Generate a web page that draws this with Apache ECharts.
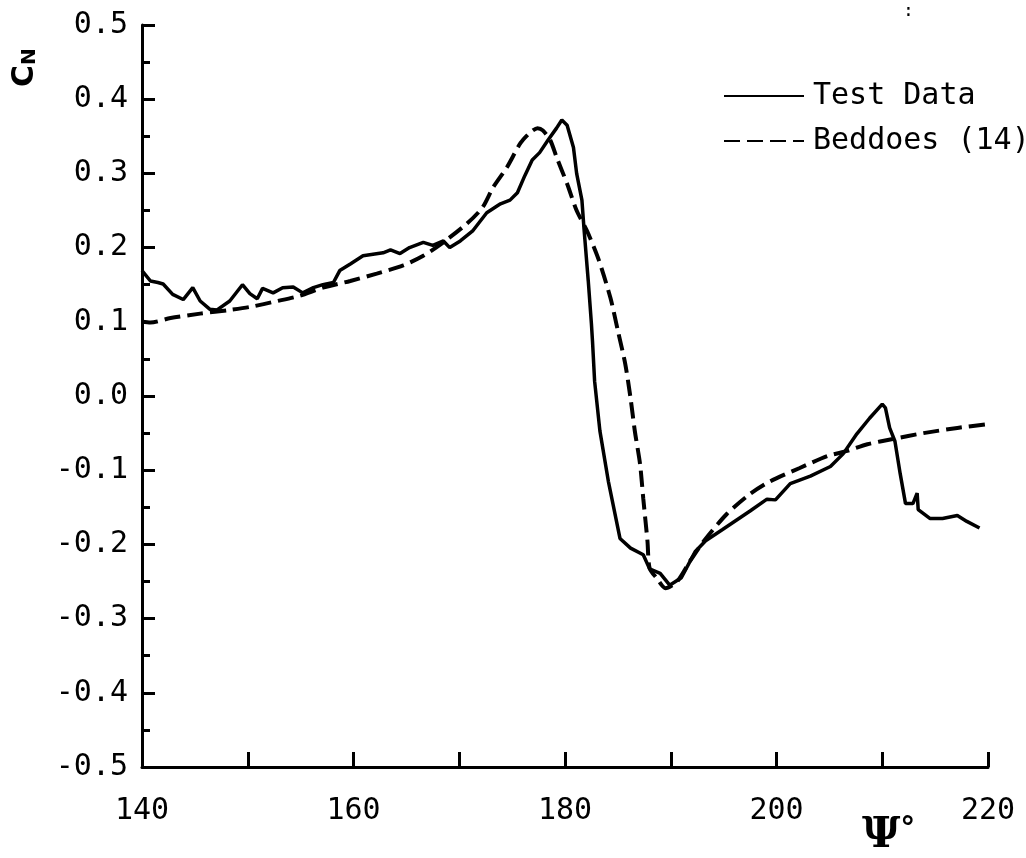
<!DOCTYPE html>
<html>
<head>
<meta charset="utf-8">
<script src="https://cdn.jsdelivr.net/npm/echarts@6/dist/echarts.min.js"></script>
<style>html,body{margin:0;padding:0;background:#fff}#c{width:1026px;height:858px}</style>
</head>
<body>
<div id="c"></div>
<script>
// ---- data ----
const xTicks = [140, 160, 180, 200, 220];
const yTicks = [-0.5, -0.4, -0.3, -0.2, -0.1, 0.0, 0.1, 0.2, 0.3, 0.4, 0.5];
const seriesNames = ['Test Data', 'Beddoes (14)'];

const testX = [140.0,140.8,141.5,142.0,142.9,143.9,144.8,145.5,146.4,147.1,148.3,149.5,150.2,150.9,151.4,152.4,153.3,154.3,155.2,156.2,157.1,158.1,158.7,159.7,160.9,162.8,163.5,164.4,165.3,166.6,167.5,168.5,169.1,170.1,171.3,172.6,173.9,174.8,175.5,176.2,176.9,177.6,178.4,179.2,179.7,180.2,180.8,181.1,181.6,181.8,182.2,182.5,182.6,182.8,183.3,184.1,185.2,186.2,187.4,188.0,189.0,189.9,191.0,192.3,193.3,194.9,197.5,199.1,199.9,201.3,203.2,205.1,206.3,207.6,208.8,210.0,210.3,210.7,211.2,211.7,212.2,212.9,213.3,213.4,214.5,215.7,217.1,218.0,219.2];
const testY = [0.169,0.155,0.153,0.151,0.137,0.130,0.146,0.128,0.117,0.116,0.128,0.150,0.138,0.131,0.145,0.139,0.146,0.147,0.139,0.146,0.150,0.153,0.169,0.178,0.189,0.193,0.197,0.192,0.200,0.207,0.203,0.209,0.200,0.209,0.223,0.247,0.259,0.264,0.274,0.297,0.318,0.328,0.345,0.361,0.372,0.365,0.335,0.300,0.264,0.225,0.155,0.097,0.074,0.020,-0.047,-0.115,-0.192,-0.205,-0.214,-0.233,-0.239,-0.255,-0.245,-0.210,-0.195,-0.180,-0.155,-0.139,-0.140,-0.118,-0.108,-0.095,-0.078,-0.051,-0.030,-0.011,-0.016,-0.043,-0.061,-0.105,-0.145,-0.145,-0.131,-0.153,-0.165,-0.165,-0.161,-0.169,-0.178];

const beddoesX = [140.0,140.8,142.7,145.5,148.3,150.2,152.8,154.9,157.1,159.7,162.2,164.7,166.6,168.2,170.7,172.2,173.2,174.5,175.8,176.7,177.4,177.9,178.6,179.2,180.2,181.1,182.1,183.2,184.3,185.0,185.7,186.2,186.6,187.1,187.4,187.8,188.0,188.7,189.5,190.6,191.8,193.1,195.3,197.5,199.4,202.2,204.8,206.7,208.6,211.0,213.9,217.1,219.9];
const beddoesY = [0.100,0.099,0.105,0.111,0.116,0.120,0.128,0.135,0.146,0.155,0.165,0.176,0.189,0.204,0.232,0.254,0.281,0.308,0.341,0.355,0.361,0.358,0.345,0.322,0.286,0.250,0.222,0.183,0.132,0.088,0.043,-0.003,-0.047,-0.092,-0.138,-0.196,-0.232,-0.246,-0.259,-0.250,-0.223,-0.196,-0.159,-0.132,-0.115,-0.097,-0.081,-0.074,-0.065,-0.058,-0.050,-0.043,-0.038];

const zip = (xs, ys) => xs.map((x, i) => [x, ys[i]]);
const MONO = '"DejaVu Sans Mono", "Liberation Mono", monospace';

const chart = echarts.init(document.getElementById('c'));
chart.setOption({
  backgroundColor: '#ffffff',
  animation: false,
  grid: { left: 142, right: 38, top: 25, bottom: 91, containLabel: false },
  legend: {
    orient: 'vertical',
    left: 718, top: 76,
    itemWidth: 80, itemHeight: 14, itemGap: 15,
    data: seriesNames,
    itemStyle: { opacity: 0, borderWidth: 0, color: 'rgba(0,0,0,0)' },
    textStyle: { fontFamily: MONO, fontSize: 30, color: '#000', padding: [0, 0, 0, 4], lineHeight: 30 }
  },
  xAxis: {
    type: 'value', min: 140, max: 220, interval: 10,
    axisLine: { onZero: false, lineStyle: { color: '#000', width: 3 } },
    axisTick: { inside: true, length: 15, lineStyle: { color: '#000', width: 3 } },
    splitLine: { show: false },
    axisLabel: {
      margin: 29, fontFamily: MONO, fontSize: 30, color: '#000',
      formatter: v => (xTicks.includes(Math.round(v)) ? String(Math.round(v)) : '')
    }
  },
  yAxis: {
    type: 'value', min: -0.5, max: 0.5, interval: 0.1,
    axisLine: { onZero: false, lineStyle: { color: '#000', width: 3 } },
    axisTick: { inside: true, length: 13, lineStyle: { color: '#000', width: 3 } },
    minorTick: { show: true, splitNumber: 2, length: 8, lineStyle: { color: '#000', width: 3 } },
    splitLine: { show: false },
    axisLabel: {
      margin: 14, fontFamily: MONO, fontSize: 30, color: '#000',
      formatter: v => {
        const t = yTicks.find(k => Math.abs(k - v) < 1e-6);
        return t === undefined ? '' : t.toFixed(1);
      }
    }
  },
  series: [
    {
      name: seriesNames[0], type: 'line', data: zip(testX, testY),
      showSymbol: false, symbol: 'none',
      lineStyle: { color: '#000', width: 3.5, type: 'solid' },
      itemStyle: { color: '#000' }
    },
    {
      name: seriesNames[1], type: 'line', data: zip(beddoesX, beddoesY),
      showSymbol: false, symbol: 'none', smooth: 0.25,
      lineStyle: { color: '#000', width: 4, type: [16, 7] },
      itemStyle: { color: '#000' }
    }
  ],
  graphic: [
    {
      type: 'text', x: 10, y: 87, rotation: Math.PI / 2,
      style: {
        text: '{c|C}{n|N}',
        rich: {
          c: { fontFamily: 'DejaVu Sans', fontSize: 30, fill: '#000', fontWeight: 'bold' },
          n: { fontFamily: 'DejaVu Sans', fontSize: 20, fill: '#000', fontWeight: 'bold', verticalAlign: 'bottom', padding: [10, 0, 0, 0] }
        },
        fill: '#000'
      }
    },
    {
      type: 'text', x: 862, y: 815,
      style: {
        text: '{p|Ψ}{d|°}',
        rich: {
          p: { fontFamily: 'DejaVu Serif', fontSize: 42, fontWeight: 'bold', fill: '#000' },
          d: { fontFamily: 'DejaVu Sans', fontSize: 30, fontWeight: 'bold', fill: '#000', verticalAlign: 'top' }
        }
      }
    },
    {
      type: 'text', x: 903, y: 2,
      style: { text: ':', fontFamily: MONO, fontSize: 18, fill: '#000' }
    }
  ]
});
</script>
</body>
</html>
